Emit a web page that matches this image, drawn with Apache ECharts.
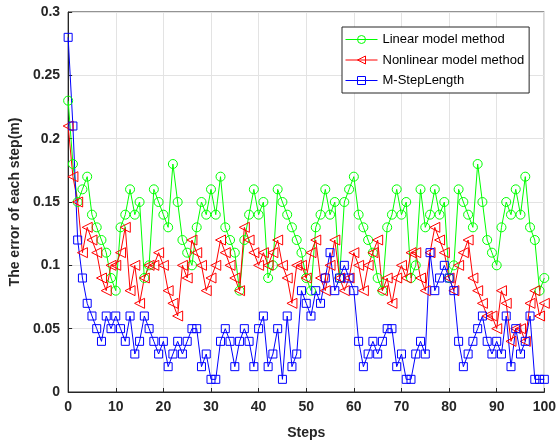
<!DOCTYPE html>
<html><head><meta charset="utf-8">
<script src="https://cdn.jsdelivr.net/npm/echarts@6/dist/echarts.min.js"></script>
<style>html,body{margin:0;padding:0;background:#fff}#c{width:559px;height:445px}</style>
</head><body><div id="c"></div>
<script>
const steps = [0,1,2,3,4,5,6,7,8,9,10,11,12,13,14,15,16,17,18,19,20,21,22,23,24,25,26,27,28,29,30,31,32,33,34,35,36,37,38,39,40,41,42,43,44,45,46,47,48,49,50,51,52,53,54,55,56,57,58,59,60,61,62,63,64,65,66,67,68,69,70,71,72,73,74,75,76,77,78,79,80,81,82,83,84,85,86,87,88,89,90,91,92,93,94,95,96,97,98,99,100];
const linearErr = [0.23,0.18,0.15,0.16,0.17,0.14,0.13,0.12,0.11,0.09,0.08,0.13,0.14,0.16,0.14,0.15,0.09,0.10,0.16,0.15,0.14,0.13,0.18,0.15,0.12,0.11,0.10,0.13,0.15,0.14,0.16,0.14,0.17,0.13,0.12,0.11,0.08,0.12,0.14,0.16,0.14,0.15,0.09,0.10,0.16,0.15,0.14,0.13,0.12,0.11,0.09,0.08,0.13,0.14,0.16,0.14,0.15,0.09,0.15,0.16,0.17,0.14,0.13,0.12,0.11,0.09,0.08,0.13,0.14,0.16,0.14,0.15,0.09,0.10,0.16,0.13,0.14,0.16,0.14,0.15,0.09,0.10,0.16,0.15,0.14,0.13,0.18,0.15,0.12,0.11,0.10,0.13,0.15,0.14,0.16,0.14,0.17,0.13,0.12,0.08,0.09];
const nonlinearErr = [0.21,0.17,0.15,0.11,0.13,0.12,0.11,0.09,0.08,0.10,0.10,0.11,0.13,0.08,0.10,0.07,0.09,0.10,0.10,0.11,0.10,0.08,0.07,0.06,0.10,0.09,0.12,0.11,0.10,0.08,0.09,0.10,0.12,0.11,0.10,0.09,0.08,0.13,0.12,0.11,0.10,0.11,0.10,0.11,0.12,0.10,0.09,0.07,0.10,0.10,0.09,0.11,0.12,0.09,0.08,0.10,0.12,0.09,0.08,0.09,0.11,0.10,0.08,0.10,0.11,0.12,0.08,0.09,0.07,0.09,0.10,0.09,0.11,0.11,0.09,0.08,0.11,0.13,0.12,0.11,0.09,0.08,0.10,0.11,0.12,0.09,0.08,0.07,0.06,0.06,0.05,0.08,0.07,0.04,0.05,0.05,0.04,0.07,0.08,0.06,0.07];
const mStepErr = [0.28,0.21,0.12,0.09,0.07,0.06,0.05,0.04,0.06,0.05,0.06,0.05,0.04,0.06,0.03,0.04,0.06,0.05,0.04,0.03,0.04,0.02,0.03,0.04,0.03,0.04,0.05,0.05,0.02,0.03,0.01,0.01,0.04,0.05,0.04,0.02,0.04,0.05,0.04,0.02,0.05,0.06,0.02,0.03,0.05,0.01,0.06,0.02,0.03,0.08,0.07,0.06,0.08,0.07,0.09,0.11,0.08,0.09,0.10,0.09,0.08,0.04,0.02,0.03,0.04,0.03,0.04,0.05,0.05,0.02,0.03,0.01,0.01,0.03,0.04,0.03,0.11,0.08,0.09,0.10,0.09,0.08,0.04,0.02,0.03,0.04,0.05,0.06,0.04,0.03,0.04,0.03,0.06,0.02,0.05,0.03,0.04,0.06,0.01,0.01,0.01];
const seriesNames = ['Linear model method','Nonlinear model method','M-StepLength'];
const xAxisName = 'Steps';
const yAxisName = 'The error of each step(m)';

const pairs = arr => arr.map((v, i) => [steps[i], v]);
const axisColor = '#262626';
const labelFont = {color: axisColor, fontFamily: 'Liberation Sans, Arial, sans-serif', fontWeight: 'bold', fontSize: 14};

function mk(name, data, color, symbol, size, rotate) {
  return {
    name, type: 'line', data: pairs(data), symbol, symbolSize: size, symbolRotate: rotate || 0,
    showAllSymbol: true, clip: false, animation: false,
    itemStyle: {color: 'rgba(255,255,255,0)', borderColor: color, borderWidth: 1},
    lineStyle: {color, width: 1},
    emphasis: {disabled: true}
  };
}

const chart = echarts.init(document.getElementById('c'), null, {renderer: 'canvas'});
chart.setOption({
  animation: false,
  backgroundColor: '#fff',
  grid: {left: 65, right: 11, top: 12, bottom: 51, show: true, borderColor: axisColor, borderWidth: 1, backgroundColor: 'transparent'},
  legend: {
    orient: 'vertical', left: 342, top: 27,
    data: seriesNames,
    itemWidth: 32, itemHeight: 10, itemGap: 7.5,
    padding: [6, 5, 6, 3],
    borderColor: axisColor, borderWidth: 1, backgroundColor: '#fff',
    itemStyle: {color: 'rgba(255,255,255,0)', borderWidth: 1},
    lineStyle: {width: 1},
    textStyle: {fontFamily: 'Liberation Sans, Arial, sans-serif', fontSize: 13, color: '#000', lineHeight: 10},
    selectedMode: false
  },
  xAxis: {
    type: 'value', min: 0, max: 100, interval: 10,
    name: xAxisName, nameLocation: 'middle', nameGap: 34,
    nameTextStyle: Object.assign({}, labelFont, {fontSize: 14}),
    axisLine: {show: true, lineStyle: {color: axisColor, width: 1}},
    axisTick: {show: true, inside: true, length: 4, lineStyle: {color: axisColor}},
    axisLabel: Object.assign({margin: 8}, labelFont),
    splitLine: {show: true, lineStyle: {color: '#e3e3e3', width: 1}}
  },
  yAxis: {
    type: 'value', min: 0, max: 0.3, interval: 0.05,
    name: yAxisName, nameLocation: 'middle', nameGap: 40,
    nameTextStyle: Object.assign({}, labelFont, {fontSize: 14}),
    axisLine: {show: true, lineStyle: {color: axisColor, width: 1}},
    axisTick: {show: true, inside: true, length: 4, lineStyle: {color: axisColor}},
    axisLabel: Object.assign({margin: 8, formatter: v => String(+v.toFixed(2))}, labelFont),
    splitLine: {show: true, lineStyle: {color: '#e3e3e3', width: 1}}
  },
  series: [
    mk(seriesNames[0], linearErr, '#00ff00', 'circle', 9),
    mk(seriesNames[1], nonlinearErr, '#ff0000', 'triangle', 10, 90),
    mk(seriesNames[2], mStepErr, '#0000ff', 'rect', 8)
  ]
});
</script>
</body></html>
